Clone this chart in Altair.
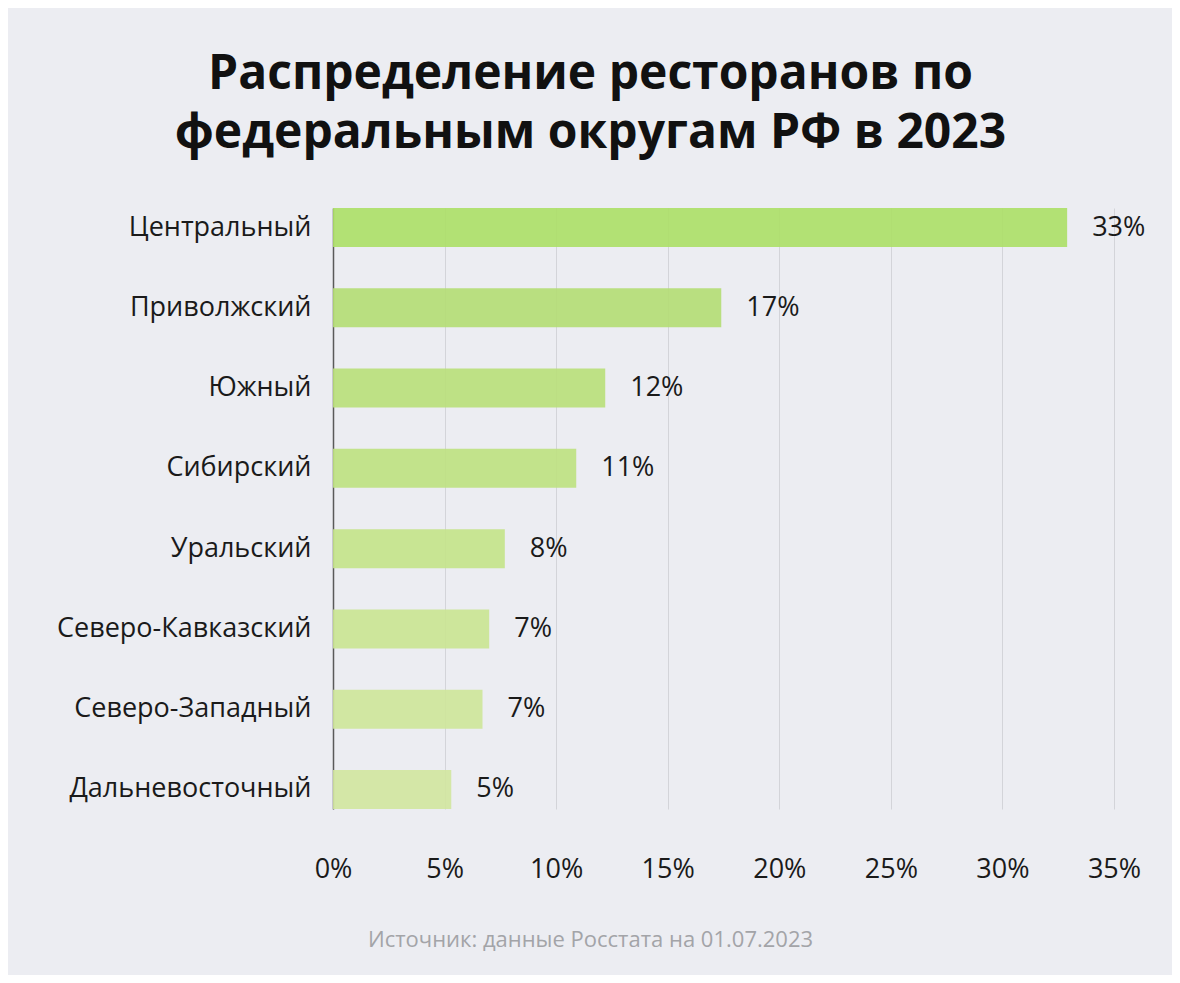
import altair as alt
import pandas as pd

regions = ["Центральный", "Приволжский", "Южный", "Сибирский", "Уральский",
           "Северо-Кавказский", "Северо-Западный", "Дальневосточный"]
shares = [32.9, 17.4, 12.2, 10.9, 7.7, 7.0, 6.7, 5.3]
labels = ["33%", "17%", "12%", "11%", "8%", "7%", "7%", "5%"]
bar_colors = ["#ACDF66", "#B4DD73", "#B9DF79", "#BEE180", "#C4E388",
              "#CAE491", "#CEE599", "#D1E69F"]
x_ticks = [0, 5, 10, 15, 20, 25, 30, 35]

title_lines = ["Распределение ресторанов по", "федеральным округам РФ в 2023"]
source_text = "Источник: данные Росстата на 01.07.2023"

df = pd.DataFrame({"region": regions, "share": shares, "label": labels})

FONT = "Open Sans"

y_enc = alt.Y("region:N", sort=regions,
              scale=alt.Scale(paddingInner=0.514, paddingOuter=0),
              axis=alt.Axis(title=None, labelFontSize=27, labelColor="#1a1a1a",
                            labelFont=FONT, labelPadding=22, ticks=False, labelLimit=0,
                            domain=True, domainColor="#5a5a5a", domainWidth=1.5,
                            grid=False))

x_enc = alt.X("share:Q",
              scale=alt.Scale(domain=[0, 35], nice=False, zero=True),
              axis=alt.Axis(values=x_ticks, labelExpr="datum.value + '%'",
                            labelFontSize=27, labelColor="#1a1a1a", labelFont=FONT,
                            labelPadding=47, ticks=False, domain=False,
                            grid=True, gridColor="#D3D4D9", gridWidth=1,
                            title=source_text, titleFont=FONT, titleFontSize=22,
                            titleFontWeight="normal", titleColor="#A3A4A8",
                            titleX=257, titleY=137, titleAlign="center",
                            titleBaseline="alphabetic", labelFlush=False))

bars = alt.Chart(df).mark_bar(opacity=0.9).encode(
    y=y_enc,
    x=x_enc,
    color=alt.Color("region:N", scale=alt.Scale(domain=regions, range=bar_colors),
                    legend=None),
)

text = alt.Chart(df).mark_text(align="left", baseline="middle", dx=25,
                               fontSize=27, font=FONT, color="#1a1a1a").encode(
    y=alt.Y("region:N", sort=regions),
    x=alt.X("share:Q"),
    text="label:N",
)

chart = alt.layer(bars, text).properties(
    width=781,
    height=601,
    title=alt.TitleParams(text=title_lines, font=FONT, fontSize=48, fontWeight="bold",
                          color="#111111", anchor="middle", dx=-133, offset=12,
                          lineHeight=59, baseline="alphabetic"),
    autosize=alt.AutoSizeParams(type="none"),
    padding={"left": 325, "top": 200, "right": 58, "bottom": 166},
    background="#ECEDF2",
).configure_view(stroke=None)

chart.save("out.html", embed_options={"renderer": "svg", "actions": False})
